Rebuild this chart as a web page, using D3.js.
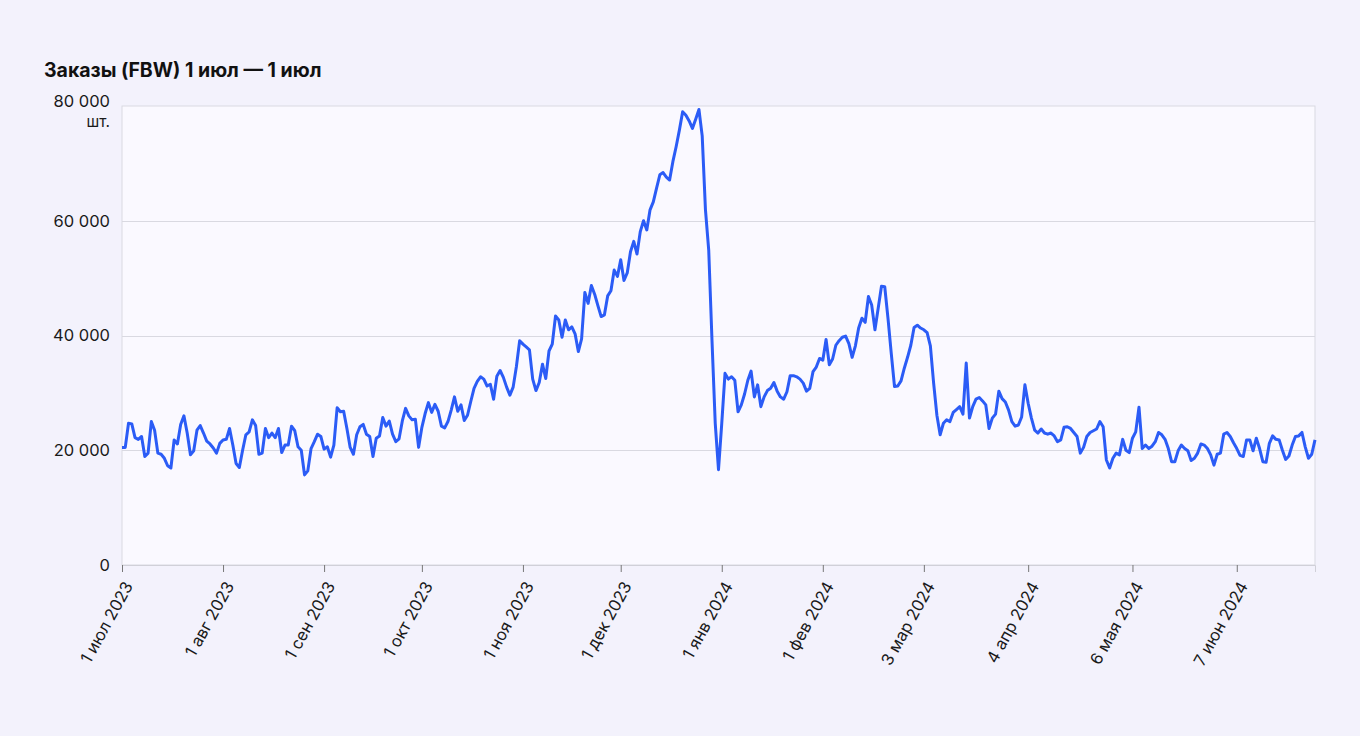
<!DOCTYPE html>
<html lang="ru">
<head>
<meta charset="UTF-8">
<title>Заказы (FBW)</title>
<style>
    body { margin: 0; background: #f3f2fc; font-family: Inter, "Noto Sans", sans-serif; }
    svg { display: block; }
</style>
</head>
<body>
<svg id="chart"></svg>

<script src="https://cdn.jsdelivr.net/npm/d3@7"></script>
<script>
    var width = 1360;
    var height = 736;
    var margin = { top: 106, right: 45, bottom: 171, left: 122 };

    // первый день ряда, дальше по одному значению на день
    var startDate = new Date(2023, 6, 1);
    var orders = [
        20500, 20500, 24700, 24600, 22200, 21900, 22400, 18900, 19500, 25000,
        23500, 19500, 19300, 18600, 17300, 16900, 21800, 21100, 24500, 26000,
        23000, 19200, 19900, 23500, 24300, 23000, 21600, 21100, 20400, 19500,
        21200, 21800, 21900, 23800, 20900, 17700, 17000, 20000, 22700, 23200,
        25300, 24300, 19300, 19500, 23800, 22200, 23000, 22200, 23800, 19600,
        20900, 20900, 24200, 23400, 20600, 20000, 15700, 16400, 20300, 21500,
        22800, 22400, 20200, 20600, 18800, 20900, 27400, 26700, 26800, 23800,
        20500, 19300, 22700, 24100, 24500, 22800, 22400, 18900, 22100, 22500,
        25700, 24200, 25100, 22800, 21500, 22000, 25100, 27300, 26000, 25300,
        25400, 20500, 24000, 26400, 28300, 26600, 28000, 26800, 24200, 23900,
        25000, 27000, 29300, 26800, 27900, 25200, 26100, 28500, 30800, 32000,
        32800, 32400, 31200, 31500, 28900, 32900, 33900, 32700, 31000, 29600,
        31000, 34600, 39100, 38500, 38000, 37500, 32400, 30400, 31800, 35000,
        32500, 37300, 38500, 43400, 42700, 39700, 42700, 41000, 41500, 40300,
        37200, 39400, 47500, 45600, 48700, 47200, 45200, 43300, 43600, 46900,
        47800, 51400, 50300, 53200, 49600, 50900, 54600, 56400, 54200, 58100,
        60000, 58400, 61900, 63300, 65700, 68000, 68400, 67600, 67100, 70300,
        72900, 75800, 79000, 78400, 77400, 76100, 77700, 79400, 74800, 61900,
        54900, 39200, 24700, 16600, 24700, 33400, 32400, 32800, 32200, 26700,
        27900, 29800, 32200, 33800, 29300, 31400, 27600, 29300, 30400, 30800,
        31800, 30300, 29300, 28900, 30200, 33000, 33000, 32800, 32400, 31700,
        30300, 30800, 33700, 34500, 36000, 35700, 39300, 34900, 35900, 38300,
        39100, 39700, 39900, 38600, 36200, 38200, 41300, 43000, 42300, 46800,
        45300, 41000, 44800, 48600, 48500, 43000, 36900, 31100, 31200, 32100,
        34300, 36200, 38300, 41400, 41800, 41300, 41000, 40500, 38200, 31700,
        26100, 22700, 24700, 25300, 25000, 26600, 27100, 27600, 26300, 35200,
        25600, 27600, 28900, 29200, 28600, 27900, 23800, 25600, 26300, 30300,
        29000, 28400, 27000, 25000, 24200, 24400, 25800, 31400, 28200, 25600,
        23500, 23000, 23700, 23000, 22800, 23000, 22500, 21500, 21800, 24000,
        24100, 23800, 23100, 22400, 19500, 20500, 22400, 23100, 23400, 23700,
        25000, 24100, 18300, 16900, 18600, 19500, 19200, 21900, 20000, 19600,
        22100, 23200, 27500, 20300, 20900, 20300, 20700, 21500, 23100, 22700,
        21900, 20300, 18000, 18000, 19900, 20900, 20300, 19900, 18200, 18600,
        19500, 21100, 20900, 20300, 19200, 17400, 19300, 19500, 22800, 23100,
        22400, 21300, 20300, 19100, 18900, 21800, 21800, 19900, 22100, 20300,
        18000, 17900, 21200, 22500, 21900, 21800, 20000, 18400, 19000, 20900,
        22400, 22500, 23100, 20600, 18600, 19300, 21800
    ];

    var xTickDates = [
        new Date(2023, 6, 1), new Date(2023, 7, 1), new Date(2023, 8, 1),
        new Date(2023, 9, 1), new Date(2023, 10, 1), new Date(2023, 11, 1),
        new Date(2024, 0, 1), new Date(2024, 1, 1), new Date(2024, 2, 3),
        new Date(2024, 3, 4), new Date(2024, 4, 6), new Date(2024, 5, 7)
    ];
    var xTickLabels = [
        "1 июл 2023", "1 авг 2023", "1 сен 2023", "1 окт 2023", "1 ноя 2023", "1 дек 2023",
        "1 янв 2024", "1 фев 2024", "3 мар 2024", "4 апр 2024", "6 мая 2024", "7 июн 2024"
    ];
    var yTickValues = [0, 20000, 40000, 60000, 80000];
    var yTickLabels = ["0", "20 000", "40 000", "60 000", "80 000"];
    var title = "Заказы (FBW) 1 июл — 1 июл";
    var unit = "шт.";

    var data = orders.map(function (v, i) {
        return { date: d3.timeDay.offset(startDate, i), value: v };
    });

    var svg = d3.select("#chart")
        .attr("width", width)
        .attr("height", height);

    var x = d3.scaleTime()
        .domain(d3.extent(data, function (d) { return d.date; }))
        .range([margin.left, width - margin.right]);

    var y = d3.scaleLinear()
        .domain([0, 80000])
        .range([height - margin.bottom, margin.top]);

    // фон области графика
    svg.append("rect")
        .attr("x", margin.left)
        .attr("y", margin.top)
        .attr("width", width - margin.left - margin.right)
        .attr("height", height - margin.top - margin.bottom)
        .attr("fill", "#faf9ff")
        .attr("stroke", "#d9d9e1")
        .attr("stroke-width", 1);

    // горизонтальная сетка
    svg.append("g")
        .selectAll("line")
        .data(yTickValues.slice(1, -1))
        .enter()
        .append("line")
        .attr("x1", margin.left)
        .attr("x2", width - margin.right)
        .attr("y1", function (d) { return Math.round(y(d)) + 0.5; })
        .attr("y2", function (d) { return Math.round(y(d)) + 0.5; })
        .attr("stroke", "#d9d9e1");

    // подписи оси Y
    var yLabels = svg.append("g")
        .attr("font-size", 16.5)
        .attr("fill", "#1a1a1a");

    yLabels.selectAll("text")
        .data(yTickValues)
        .enter()
        .append("text")
        .attr("x", margin.left - 12)
        .attr("y", function (d, i) { return y(d) + (i === yTickValues.length - 1 ? -5 : 0); })
        .attr("dy", "0.35em")
        .attr("text-anchor", "end")
        .text(function (d, i) { return yTickLabels[i]; });

    yLabels.append("text")
        .attr("x", margin.left - 12)
        .attr("y", y(80000) + 16)
        .attr("dy", "0.35em")
        .attr("font-size", 15.5)
        .attr("text-anchor", "end")
        .text(unit);

    // ось X
    var xAxis = d3.axisBottom(x)
        .tickValues(xTickDates)
        .tickSize(7)
        .tickFormat(function (d, i) { return xTickLabels[i]; });

    var gx = svg.append("g")
        .attr("transform", "translate(0," + (height - margin.bottom) + ")")
        .call(xAxis);

    gx.select(".domain").attr("stroke", "#d0d0d8");
    gx.selectAll(".tick line").attr("stroke", "#777");
    gx.selectAll(".tick text")
        .attr("font-family", "Inter, 'Noto Sans', sans-serif")
        .attr("font-size", 16.5)
        .attr("fill", "#1a1a1a")
        .attr("text-anchor", "end")
        .attr("x", 0)
        .attr("y", 0)
        .attr("dy", "0.35em")
        .attr("transform", "translate(6,18) rotate(-61)");

    // линия заказов
    var line = d3.line()
        .x(function (d) { return x(d.date); })
        .y(function (d) { return y(d.value); });

    svg.append("path")
        .datum(data)
        .attr("fill", "none")
        .attr("stroke", "#2b5cf6")
        .attr("stroke-width", 3)
        .attr("stroke-linejoin", "round")
        .attr("d", line);

    // заголовок
    svg.append("text")
        .attr("x", 44)
        .attr("y", 77)
        .attr("font-size", 19.5)
        .attr("font-weight", 700)
        .attr("fill", "#111")
        .text(title);
</script>
</body>
</html>
